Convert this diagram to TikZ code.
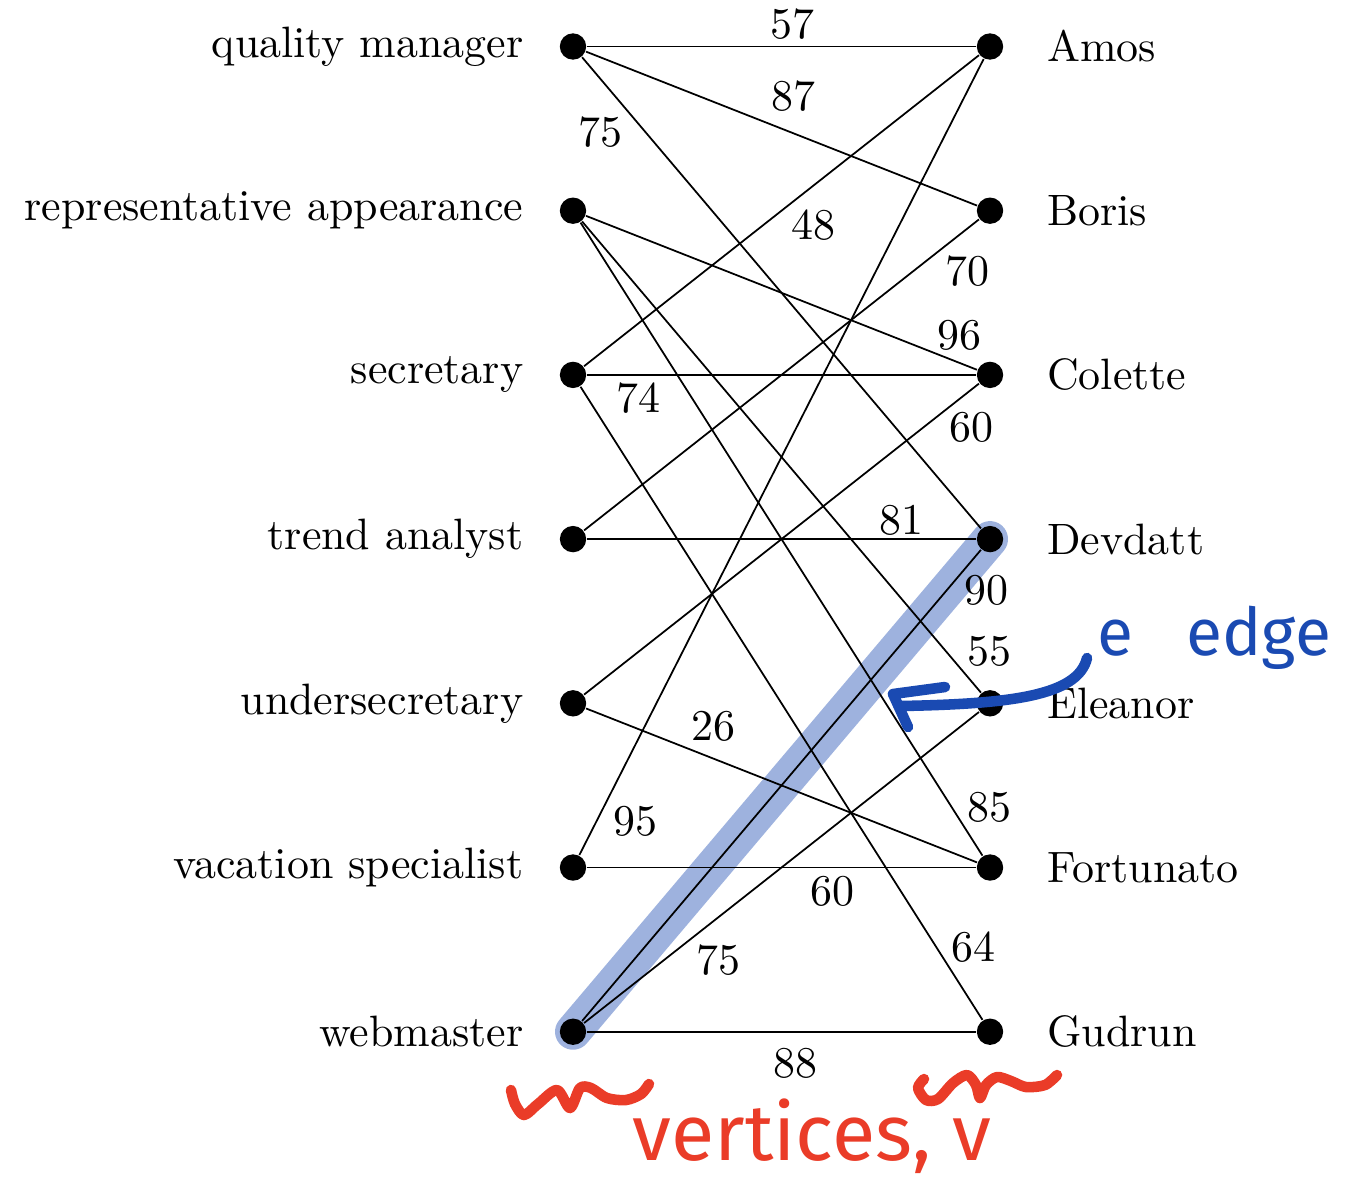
\documentclass[tikz,border=0pt]{standalone}
\usepackage{fontspec}
\usepackage{tikz}
\usetikzlibrary{positioning,backgrounds}
\newfontfamily\manoalzada{Fira Sans}
\definecolor{resalte}{RGB}{158,178,222}
\definecolor{azultinta}{RGB}{26,74,178}
\definecolor{rojotinta}{RGB}{234,60,40}

\begin{document}
\begin{tikzpicture}[x=0.2276pt, y=-0.2276pt,
  vert/.style={circle, fill=black, inner sep=0pt, minimum size=6pt},
  nombre/.style={inner sep=3.33pt},
  peso/.style={inner sep=0pt},
  arista/.style={draw=black, line width=0.4pt},
  tinta/.style={line width=2.4pt, line cap=round, line join=round},
  nota/.style={font=\manoalzada\fontsize{18}{22}\selectfont, inner sep=0pt}
]
\useasboundingbox (0,0) rectangle (1353,1179);
% Vertices izquierda
\node[vert] (qm) at (573,46.5) {};
\node[vert] (ra) at (573,210.7) {};
\node[vert] (sec) at (573,374.9) {};
\node[vert] (ta) at (573,539.1) {};
\node[vert] (us) at (573,703.3) {};
\node[vert] (vs) at (573,867.5) {};
\node[vert] (wm) at (573,1031.7) {};
\node[nombre, left=4.6pt of qm] (qmt) {quality manager};
\node[nombre, left=4.6pt of ra] (rat) {representative appearance};
\node[nombre, left=4.6pt of sec] (sect) {secretary};
\node[nombre, left=4.6pt of ta] (tat) {trend analyst};
\node[nombre, left=4.6pt of us] (ust) {undersecretary};
\node[nombre, left=4.6pt of vs] (vst) {vacation specialist};
\node[nombre, left=4.6pt of wm] (wmt) {webmaster};
% Vertices derecha
\node[vert] (amos) at (990,46.5) {};
\node[vert] (boris) at (990,210.7) {};
\node[vert] (colette) at (990,374.9) {};
\node[vert] (dev) at (990,539.1) {};
\node[vert] (eleanor) at (990,703.3) {};
\node[vert] (fort) at (990,867.5) {};
\node[vert] (gudrun) at (990,1031.7) {};
\node[nombre, right=6.3pt of amos] (amost) {Amos};
\node[nombre, right=6.3pt of boris] (borist) {Boris};
\node[nombre, right=6.3pt of colette] (colettet) {Colette};
\node[nombre, right=6.3pt of dev] (devt) {Devdatt};
\node[nombre, right=6.3pt of eleanor] (eleanort) {Eleanor};
\node[nombre, right=6.3pt of fort] (fortt) {Fortunato};
\node[nombre, right=6.3pt of gudrun] (gudrunt) {Gudrun};
% Aristas con pesos
\draw[arista] (qm) -- node[peso, pos=0.527, above=1.4pt] (p1) {57} (amos);
\draw[arista] (qm) -- node[peso, pos=0.530, above=4.8pt] (p2) {87} (boris);
\draw[arista] (qm) -- node[peso, pos=0.158, left=5pt] (p3) {75} (dev);
\draw[arista] (ra) -- node[peso, pos=0.956, above=2.6pt] (p4) {96} (colette);
\draw[arista] (ra) -- node[peso, pos=0.913, right=4.6pt] (p5) {55} (eleanor);
\draw[arista] (ra) -- node[peso, pos=0.923, right=3.4pt] (p6) {85} (fort);
\draw[arista] (sec) -- node[peso, pos=0.580, below=5.2pt] (p7) {48} (amos);
\draw[arista] (sec) -- node[peso, pos=0.133, below=1.6pt] (p8) {74} (colette);
\draw[arista] (sec) -- node[peso, pos=0.885, right=3.3pt] (p9) {64} (gudrun);
\draw[arista] (ta) -- node[peso, pos=0.970, below=5.9pt] (p10) {70} (boris);
\draw[arista] (ta) -- node[peso, pos=0.809, above=0.7pt] (p11) {81} (dev);
\draw[arista] (us) -- node[peso, pos=0.981, below=5pt] (p12) {60} (colette);
\draw[arista] (us) -- node[peso, pos=0.326, above=3.6pt] (p13) {26} (fort);
\draw[arista] (vs) -- node[peso, pos=0.042, right=3.8pt] (p14) {95} (amos);
\draw[arista] (vs) -- node[peso, pos=0.631, below=1.8pt] (p15) {60} (fort);
\draw[arista] (wm) -- node[peso, pos=0.914, right=3.8pt] (p16) {90} (dev);
\draw[arista] (wm) -- node[peso, pos=0.340, below=6.1pt] (p17) {75} (eleanor);
\draw[arista] (wm) -- node[peso, pos=0.537, below=3.6pt] (p18) {88} (gudrun);
% Resaltado de la arista
\begin{scope}[on background layer]
\draw[resalte, line width=8.2pt, line cap=round] (wm.center) -- (dev.center);
\end{scope}
% Anotaciones a mano
\coordinate (flecha) at (900,706);
\draw[tinta, azultinta] (1087,658) .. controls (1078,696) and (1010,704) .. (flecha);
\draw[tinta, azultinta] (945,687) -- (893,694) -- (908,727);
\node[nota, text=azultinta, font=\manoalzada\fontsize{15}{18}\selectfont,
  anchor=base west] (arist) at (1097,655) {e\hspace{12pt}edge};
\draw[tinta, rojotinta] plot[smooth] coordinates {(511,1090) (515,1104) (524,1115)
  (538,1104) (557,1090) (570,1108) (580,1088) (591,1088) (607,1098) (626,1100)
  (641,1094) (649,1084)};
\draw[tinta, rojotinta] plot[smooth] coordinates {(924,1079) (918,1088) (926,1100)
  (938,1099) (953,1083) (967,1075) (976,1085) (980,1098) (986,1085) (997,1077)
  (1011,1081) (1026,1087) (1045,1085) (1057,1075)};
\node[nota, text=rojotinta, anchor=base west] (verts) at (632,1160) {vertices, v};
\end{tikzpicture}
\end{document}
